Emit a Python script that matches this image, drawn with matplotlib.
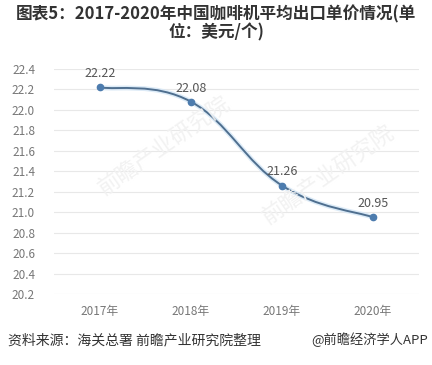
import matplotlib
matplotlib.use("Agg")
import matplotlib.pyplot as plt
from matplotlib.path import Path
from matplotlib.patches import PathPatch
import numpy as np

plt.rcParams['font.family'] = ['Noto Sans CJK SC', 'DejaVu Sans']

years = ["2017年", "2018年", "2019年", "2020年"]
prices = [22.22, 22.08, 21.26, 20.95]
yticks = [20.2, 20.4, 20.6, 20.8, 21.0, 21.2, 21.4, 21.6, 21.8, 22.0, 22.2, 22.4]
title = "图表5：2017-2020年中国咖啡机平均出口单价情况(单\n位：美元/个)"
source = "资料来源：海关总署 前瞻产业研究院整理"
credit = "@前瞻经济学人APP"


def smooth_path(xs, ys, k=0.2):
    # bezier segments through the data points (catmull-rom style handles)
    verts = [(xs[0], ys[0])]
    codes = [Path.MOVETO]
    n = len(xs)
    for i in range(n - 1):
        x0, y0 = xs[max(i - 1, 0)], ys[max(i - 1, 0)]
        x1, y1 = xs[i], ys[i]
        x2, y2 = xs[i + 1], ys[i + 1]
        x3, y3 = xs[min(i + 2, n - 1)], ys[min(i + 2, n - 1)]
        c1 = (x1 + (x2 - x0) * k, y1 + (y2 - y0) * k)
        c2 = (x2 - (x3 - x1) * k, y2 - (y3 - y1) * k)
        verts += [c1, c2, (x2, y2)]
        codes += [Path.CURVE4] * 3
    return Path(verts, codes)


fig = plt.figure(figsize=(4.32, 3.65), dpi=100)
ax = fig.add_axes([0.126, 0.1945, 0.843, 0.6165])

x = np.arange(len(years))
path = smooth_path(list(x), prices)
ax.add_patch(PathPatch(path, fill=False, edgecolor="#d4e6f6", lw=3.5, alpha=0.8, zorder=2))
ax.add_patch(PathPatch(path, fill=False, edgecolor="#4f6f8f", lw=1.4, zorder=3))
ax.plot(x, prices, "o", color="#4d7cae", ms=4.5, zorder=4)

for xi, v in zip(x, prices):
    ax.text(xi, v + 0.07, "%.2f" % v, ha="center", va="bottom", fontsize=9, color="#555555")

ax.set_xlim(-0.5, 3.5)
ax.set_ylim(20.2, 22.4)
ax.set_yticks(yticks)
ax.set_yticklabels(["%.1f" % t for t in yticks])
ax.set_xticks(x)
ax.set_xticklabels(years)
ax.grid(axis="y", color="#e8e8e8", lw=0.8)
ax.set_axisbelow(True)
for s in ax.spines.values():
    s.set_visible(False)
ax.tick_params(axis="both", length=0, labelsize=8.5, colors="#777777")
ax.tick_params(axis="y", pad=14)
ax.tick_params(axis="x", pad=8)

# faint watermarks
fig.text(0.38, 0.60, "前瞻产业研究院", rotation=35, fontsize=16, color="#f2f2f2",
         ha="center", va="center", zorder=0)
fig.text(0.76, 0.52, "前瞻产业研究院", rotation=35, fontsize=16, color="#f2f2f2",
         ha="center", va="center", zorder=0)

fig.text(0.5, 0.985, title, ha="center", va="top", fontsize=12, fontweight="bold",
         color="#333333", linespacing=1.0)
fig.text(0.018, 0.068, source, ha="left", va="center", fontsize=10, color="#333333")
fig.text(0.72, 0.068, credit, ha="left", va="center", fontsize=9.5, color="#333333")

fig.savefig("out.png", dpi=100)
